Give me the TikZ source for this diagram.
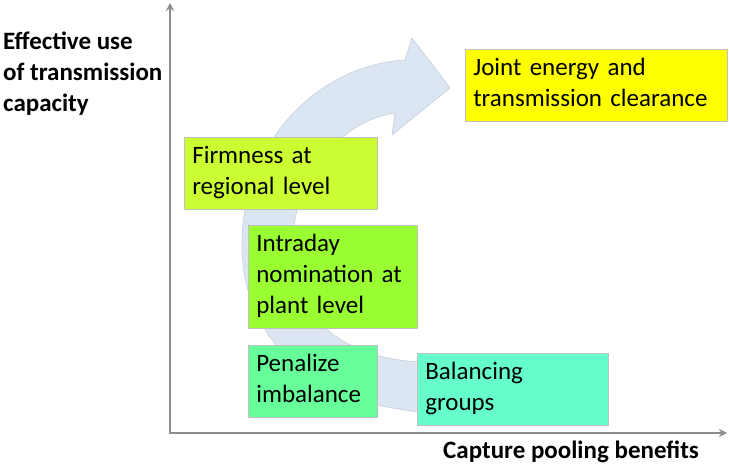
\documentclass[tikz,border=0pt]{standalone}
\usepackage{fontspec}
\setmainfont{Carlito}
\definecolor{jointcol}{HTML}{FFFF00}
\definecolor{firmcol}{HTML}{CCFF33}
\definecolor{intracol}{HTML}{99FF33}
\definecolor{penalcol}{HTML}{66FF99}
\definecolor{balcol}{HTML}{66FFCC}
\definecolor{arrowfill}{HTML}{DCE6F2}
\definecolor{arrowline}{HTML}{C3CFDD}
\definecolor{axiscol}{HTML}{8C8C8C}
\begin{document}
\begin{tikzpicture}[x=1pt,y=-1pt,line cap=round,line join=round,>=stealth,
	font=\fontsize{25}{31}\selectfont,
	stage/.style={draw=black!25,line width=.6pt,anchor=north west,align=left,inner xsep=8pt,inner ysep=5pt},
	axis/.style={draw=axiscol,line width=2.5pt},
	axlabel/.style={inner sep=0,font=\fontsize{25}{31}\selectfont\bfseries}]
	\useasboundingbox (0,0) rectangle (729,465);
	% curved arrow behind the boxes
	\filldraw[fill=arrowfill,draw=arrowline,line width=.6pt] (420,412) .. controls (300,400) and (242,330) .. (242,245) .. controls (242,140) and (320,65) .. (405,60) -- (412,38) -- (450,88) -- (392,135) -- (395,113) .. controls (345,120) and (295,170) .. (292,245) .. controls (292,320) and (345,358) .. (420,362) -- cycle;
	% axes
	\coordinate (o) at (170,433);
	\coordinate (ytip) at (170,3);
	\coordinate (xtip) at (727,433);
	\draw[axis,->] (o)--(ytip);
	\draw[axis,->] (o)--(xtip);
	\node[axlabel,anchor=north west,align=left] (ylab) at (3,28) {Effective use\strut\\of transmission\strut\\capacity\strut};
	\node[axlabel,anchor=base west] (xlab) at (443,458) {Capture pooling benefits};
	% stages
	\node[stage,fill=jointcol,text width=246pt] (joint) at (465,49) {Joint energy and\strut\\transmission clearance\strut};
	\node[stage,fill=firmcol,text width=177pt] (firm) at (184,137) {Firmness at\strut\\regional level\strut};
	\node[stage,fill=intracol,text width=153pt] (intra) at (248,225) {Intraday\strut\\nomination at\strut\\plant level\strut};
	\node[stage,fill=penalcol,text width=113pt] (penal) at (248,345) {Penalize\strut\\imbalance\strut};
	\node[stage,fill=balcol,text width=175pt] (bal) at (417,353) {Balancing\strut\\groups\strut};
\end{tikzpicture}
\end{document}
